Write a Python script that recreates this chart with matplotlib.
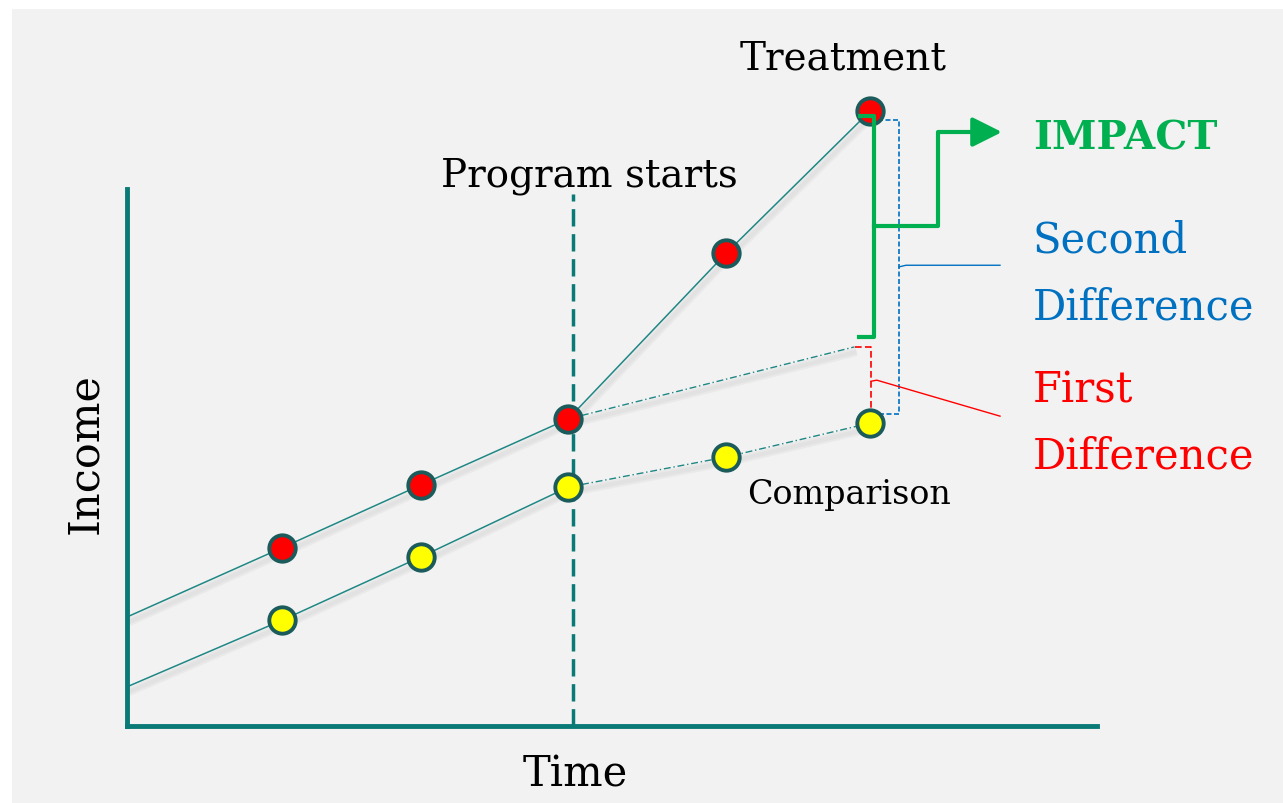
import matplotlib.pyplot as plt
from matplotlib.patches import Rectangle
from matplotlib.transforms import offset_copy

# Data (time periods on x, income on y; arbitrary units)
time = [1.6, 3.03, 4.55, 6.18, 7.66]
treat_income = [3.32, 4.49, 5.72, 8.81, 11.45]
comp_income = [1.97, 3.15, 4.45, 5.01, 5.64]
treat_start = 2.03      # treatment trend at t = 0
comp_start = 0.73       # comparison trend at t = 0
cf_time = [4.55, 7.5]   # counterfactual for treatment group
cf_income = [5.72, 7.06]
program_start = 4.6

teal = '#1f8784'
axis_teal = '#0a7a76'
edge_teal = '#1c5b5b'
green = '#00b050'
blue = '#0070c0'
red = '#ff0000'

plt.rcParams['font.family'] = 'DejaVu Serif'

fig = plt.figure(figsize=(12.83, 8.04), dpi=100, facecolor='white')
fig.patches.append(Rectangle((12 / 1283, -0.01), 1.1, (804 - 10) / 804 + 0.01, transform=fig.transFigure,
                             facecolor='#f2f2f2', edgecolor='none', zorder=-10))
ax = fig.add_axes([127 / 1283, 77 / 804, 970 / 1283, 537 / 804])
ax.set_facecolor('none')
ax.set_xlim(0, 10)
ax.set_ylim(0, 10)
for s in ['top', 'right']:
    ax.spines[s].set_visible(False)
for s in ['left', 'bottom']:
    ax.spines[s].set_color(axis_teal)
    ax.spines[s].set_linewidth(3.5)
ax.set_xticks([])
ax.set_yticks([])

# soft shadows under the trend lines
sh = offset_copy(ax.transData, fig=fig, x=2, y=-5, units='dots')
segs = [([0] + time[:3], [treat_start] + treat_income[:3]),
        (time[2:], treat_income[2:]),
        ([0] + time[:3], [comp_start] + comp_income[:3]),
        (time[2:], comp_income[2:]),
        (cf_time, cf_income)]
for xs, ys in segs:
    ax.plot(xs, ys, color='#b0b0b0', lw=6, alpha=0.12, transform=sh, solid_capstyle='butt', clip_on=False, zorder=1)
    ax.plot(xs, ys, color='#b0b0b0', lw=3, alpha=0.12, transform=sh, solid_capstyle='butt', clip_on=False, zorder=1)

# trend lines
ax.plot([0] + time[:3], [treat_start] + treat_income[:3], color=teal, lw=1.1, zorder=2, clip_on=False)
ax.plot(time[2:], treat_income[2:], color=teal, lw=1.1, zorder=2, clip_on=False)
ax.plot([0] + time[:3], [comp_start] + comp_income[:3], color=teal, lw=1.1, zorder=2, clip_on=False)
ax.plot(time[2:], comp_income[2:], color=teal, lw=1.0, ls=(0, (5, 2, 1, 2)), zorder=2, clip_on=False)
ax.plot(cf_time, cf_income, color=teal, lw=1.0, ls=(0, (5, 2, 1, 2)), zorder=2, clip_on=False)

# program start line
ax.plot([program_start, program_start], [0, 9.9], color=axis_teal, lw=2.5, dashes=(5, 2.2), zorder=1, clip_on=False)

# points
ax.plot(time, treat_income, 'o', ms=19, mfc=red, mec=edge_teal, mew=2.8, zorder=4, clip_on=False)
ax.plot(time, comp_income, 'o', ms=19, mfc='#ffff00', mec=edge_teal, mew=2.8, zorder=4, clip_on=False)

# IMPACT bracket (green)
gx = time[-1] + 0.04
gmid = 9.31
ax.plot([gx - 0.14, gx, gx, gx - 0.15], [11.36, 11.36, 7.24, 7.24], color=green, lw=3, clip_on=False, zorder=5)
ax.plot([gx, 8.36, 8.36, 8.9], [gmid, gmid, 11.06, 11.06], color=green, lw=3, clip_on=False, zorder=5)
ax.annotate('', xy=(9.02, 11.06), xytext=(8.8, 11.06), annotation_clip=False,
            arrowprops=dict(arrowstyle='-|>,head_length=0.9,head_width=0.45', color=green, lw=3,
                            mutation_scale=20, shrinkA=0, shrinkB=0))

# second difference bracket (blue)
bx = 7.96
ax.plot([7.74, bx, bx, 7.76], [11.28, 11.28, 5.81, 5.81], color=blue, lw=1.2, ls=(0, (3, 1.5)), clip_on=False, zorder=3)
ax.plot([bx, 8.03, 9.0], [8.55, 8.58, 8.58], color=blue, lw=1.0, clip_on=False, zorder=3)

# first difference bracket (red)
rx = 7.67
ax.plot([cf_time[-1], rx, rx], [cf_income[-1], cf_income[-1], comp_income[-1] + 0.2], color=red, lw=1.2,
        ls=(0, (4, 2)), clip_on=False, zorder=3)
ax.plot([rx, 7.73, 9.0], [6.42, 6.44, 5.77], color=red, lw=1.0, clip_on=False, zorder=3)

# texts
ax.text(7.38, 12.25, 'Treatment', fontsize=28, ha='center', va='baseline')
ax.text(4.77, 10.06, 'Program starts', fontsize=28, ha='center', va='baseline')
ax.text(6.39, 4.15, 'Comparison', fontsize=24, ha='left', va='baseline')
ax.text(9.34, 10.76, 'IMPACT', fontsize=29, fontweight='bold', color=green, ha='left', va='baseline')
ax.text(9.34, 8.83, 'Second', fontsize=30, color=blue, ha='left', va='baseline')
ax.text(9.34, 7.58, 'Difference', fontsize=30, color=blue, ha='left', va='baseline')
ax.text(9.34, 6.05, 'First', fontsize=30, color=red, ha='left', va='baseline')
ax.text(9.34, 4.82, 'Difference', fontsize=30, color=red, ha='left', va='baseline')
ax.text(4.62, -1.10, 'Time', fontsize=30, ha='center', va='baseline')
ax.text(-0.31, 5.10, 'Income', fontsize=31, rotation=90, rotation_mode='anchor', ha='center', va='baseline')

fig.savefig('out.png', dpi=100, facecolor='white')
